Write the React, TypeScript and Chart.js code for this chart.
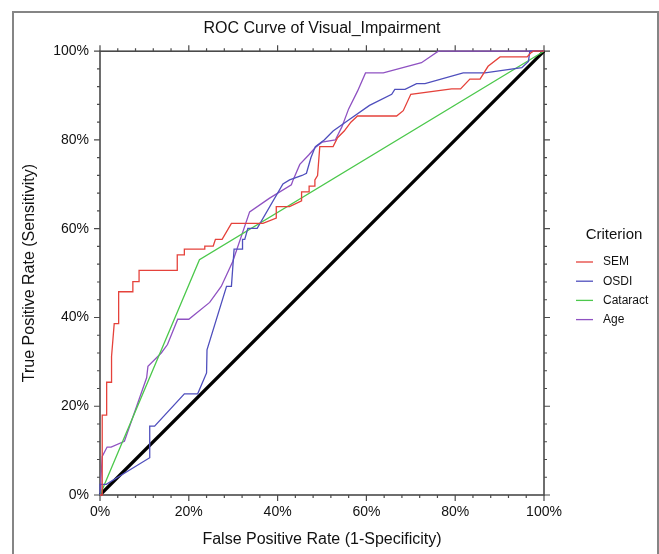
import React, { useEffect, useRef } from "react";
import { Chart, registerables } from "chart.js";

Chart.register(...registerables);

// ---- Data (percent) ----
const tickValues = [0, 20, 40, 60, 80, 100];
const seriesNames = ["SEM", "OSDI", "Cataract", "Age"];
const seriesColors = ["#e5423b", "#4f4fbd", "#4cc84c", "#8f52c2"];

const semX = [0, 0.5, 0.5, 1.5, 1.5, 2.6, 2.6, 3.2, 4.2, 4.2, 7.4, 7.4, 8.8, 8.8, 17.4, 17.4, 19, 19, 23.6, 23.6, 25.5, 26, 27.5, 29.6, 36.7, 39.7, 39.7, 42.7, 45.4, 45.4, 47.1, 47.1, 48.4, 48.4, 49, 49.5, 52.5, 53.5, 55, 56.5, 58, 66.8, 68.3, 70, 79.2, 81.2, 83.3, 85.6, 87.4, 90.1, 96.2, 97, 97.6, 100];
const semY = [0, 0, 18, 18, 25.4, 25.4, 31.2, 38.6, 38.6, 45.8, 45.8, 48.1, 48.1, 50.6, 50.6, 54.1, 54.1, 55.4, 55.4, 56.1, 56.1, 57.6, 57.6, 61.2, 61.2, 62.4, 65, 65, 66.3, 68.3, 68.3, 69.6, 69.6, 71, 72, 78.5, 78.5, 80.5, 82, 84, 85.4, 85.4, 86.6, 90.3, 91.5, 91.5, 93.7, 93.7, 96.6, 98.7, 98.7, 99.6, 100, 100];

const osdiX = [0, 0, 1.4, 11.2, 11.2, 12.3, 19, 22, 24, 24.1, 28.5, 29.6, 30.2, 32.1, 32.1, 32.6, 33.3, 35.4, 41.2, 42.7, 45.5, 46.5, 47.5, 48.5, 50.5, 52.5, 56, 60.7, 65.7, 66.4, 68.7, 71.3, 73.2, 81.8, 86.7, 95, 96.5, 96.8, 100];
const osdiY = [0, 2.4, 2.4, 8.4, 15.5, 15.5, 22.8, 22.8, 27.5, 32.7, 47, 47, 55.4, 55.4, 57.6, 57.6, 60.1, 60.1, 70.1, 71, 72, 72.5, 76, 78.5, 80, 82, 84.5, 87.8, 90.3, 91.4, 91.4, 92.7, 92.7, 95.1, 95.1, 96.3, 97.7, 100, 100];

const cataractX = [0, 22.4, 100];
const cataractY = [0, 53, 100];

const ageX = [0, 0.2, 0.5, 1.6, 2.5, 5.5, 10.5, 10.8, 13.8, 15.2, 17.5, 20, 24.7, 27.3, 29.9, 33.7, 38.2, 43.1, 43.5, 45, 47, 48.5, 50, 53, 54.5, 56, 58, 59.8, 63.8, 72.4, 76.2, 100];
const ageY = [0, 3.5, 8.7, 10.8, 10.8, 12.1, 26.4, 29, 32, 33.9, 39.6, 39.6, 43.4, 47, 52.6, 63.8, 66.9, 69.9, 71, 74.5, 76.6, 78.3, 79.5, 80, 83, 87, 91, 95.1, 95.1, 97.4, 100, 100];

const refX = [0, 100];
const refY = [0, 100];

const seriesX = [semX, osdiX, cataractX, ageX];
const seriesY = [semY, osdiY, cataractY, ageY];

const FONT = "'Liberation Sans', Arial, Helvetica, sans-serif";

function toPoints(xs: number[], ys: number[]) {
  return xs.map((x, i) => ({ x, y: ys[i] }));
}

const outerBorderPlugin = {
  id: "outerBorder",
  beforeDraw(chart: any) {
    const ctx = chart.ctx;
    ctx.save();
    ctx.fillStyle = "#ffffff";
    ctx.fillRect(0, 0, chart.width, chart.height);
    ctx.strokeStyle = "#858585";
    ctx.lineWidth = 2;
    ctx.strokeRect(13, 12, 645, 600);
    ctx.restore();
  },
};

const framePlugin = {
  id: "frame",
  beforeDatasetsDraw(chart: any) {
    const { ctx, chartArea } = chart;
    const { left, right, top, bottom } = chartArea;
    const xs = chart.scales.x;
    const ys = chart.scales.y;
    ctx.save();
    ctx.strokeStyle = "#4a4a4a";
    ctx.lineWidth = 1.6;
    ctx.strokeRect(left, top, right - left, bottom - top);
    ctx.lineWidth = 1.2;
    ctx.beginPath();
    for (let v = 0; v <= 100; v += 4) {
      const len = v % 20 === 0 ? 6 : 3;
      const px = xs.getPixelForValue(v);
      const py = ys.getPixelForValue(v);
      ctx.moveTo(px, bottom);
      ctx.lineTo(px, bottom + len);
      ctx.moveTo(px, top);
      ctx.lineTo(px, top - len);
      ctx.moveTo(left, py);
      ctx.lineTo(left - len, py);
      ctx.moveTo(right, py);
      ctx.lineTo(right + len, py);
    }
    ctx.stroke();
    ctx.restore();
  },
};

const legendPlugin = {
  id: "customLegend",
  afterDraw(chart: any) {
    const { ctx, chartArea } = chart;
    const x0 = chartArea.right + 32;
    ctx.save();
    ctx.fillStyle = "#111";
    ctx.textBaseline = "middle";
    ctx.textAlign = "center";
    ctx.font = `15px ${FONT}`;
    ctx.fillText("Criterion", x0 + 38, 235);
    ctx.textAlign = "left";
    ctx.font = `12px ${FONT}`;
    seriesNames.forEach((name, i) => {
      const y = 262 + i * 19.2;
      ctx.strokeStyle = seriesColors[i];
      ctx.lineWidth = 1.3;
      ctx.beginPath();
      ctx.moveTo(x0, y);
      ctx.lineTo(x0 + 17, y);
      ctx.stroke();
      ctx.fillStyle = "#111";
      ctx.fillText(name, x0 + 27, y);
    });
    ctx.restore();
  },
};

export default function App() {
  const canvasRef = useRef<HTMLCanvasElement | null>(null);

  useEffect(() => {
    document.body.style.margin = "0";
    const canvas = canvasRef.current;
    if (!canvas) return;

    const datasets: any[] = seriesNames.map((name, i) => ({
      label: name,
      data: toPoints(seriesX[i], seriesY[i]),
      borderColor: seriesColors[i],
      backgroundColor: seriesColors[i],
      borderWidth: 1.3,
      pointRadius: 0,
      tension: 0,
      fill: false,
      clip: 4,
    }));
    datasets.push({
      label: "Reference",
      data: toPoints(refX, refY),
      borderColor: "#000000",
      backgroundColor: "#000000",
      borderWidth: 3.2,
      pointRadius: 0,
      tension: 0,
      fill: false,
      clip: 4,
    });

    const chart = new Chart(canvas, {
      type: "line",
      data: { datasets },
      options: {
        animation: false,
        responsive: false,
        devicePixelRatio: 1,
        layout: { padding: { left: 14, right: 115, top: 14, bottom: 0 } },
        plugins: {
          legend: { display: false },
          tooltip: { enabled: false },
          title: {
            display: true,
            fullSize: false,
            text: "ROC Curve of Visual_Impairment",
            color: "#111",
            font: { family: FONT, size: 16, weight: "normal" },
            padding: { top: 5, bottom: 13 },
          },
        },
        scales: {
          x: {
            type: "linear",
            min: 0,
            max: 100,
            afterBuildTicks: (scale: any) => {
              scale.ticks = tickValues.map((v) => ({ value: v }));
            },
            afterFit: (scale: any) => {
              scale.height = 59;
            },
            ticks: {
              callback: (v: any) => v + "%",
              color: "#111",
              font: { family: FONT, size: 14 },
              padding: 9,
              maxRotation: 0,
              autoSkip: false,
            },
            grid: { display: false, drawTicks: false },
            border: { display: false },
            title: {
              display: true,
              text: "False Positive Rate (1-Specificity)",
              color: "#111",
              font: { family: FONT, size: 16 },
              padding: { top: 4, bottom: 4.4 },
            },
          },
          y: {
            type: "linear",
            min: 0,
            max: 100,
            afterBuildTicks: (scale: any) => {
              scale.ticks = tickValues.map((v) => ({ value: v }));
            },
            afterFit: (scale: any) => {
              scale.width = 86;
            },
            ticks: {
              callback: (v: any) => v + "%",
              color: "#111",
              font: { family: FONT, size: 14 },
              padding: 11,
              autoSkip: false,
            },
            grid: { display: false, drawTicks: false },
            border: { display: false },
            title: {
              display: true,
              text: "True Positive Rate (Sensitivity)",
              color: "#111",
              font: { family: FONT, size: 16 },
              padding: { top: 6.4, bottom: 0 },
            },
          },
        },
      },
      plugins: [outerBorderPlugin, framePlugin, legendPlugin],
    });

    return () => {
      chart.destroy();
    };
  }, []);

  return (
    <div style={{ width: 659, height: 554, position: "relative" }}>
      <canvas ref={canvasRef} width={659} height={554} />
    </div>
  );
}
